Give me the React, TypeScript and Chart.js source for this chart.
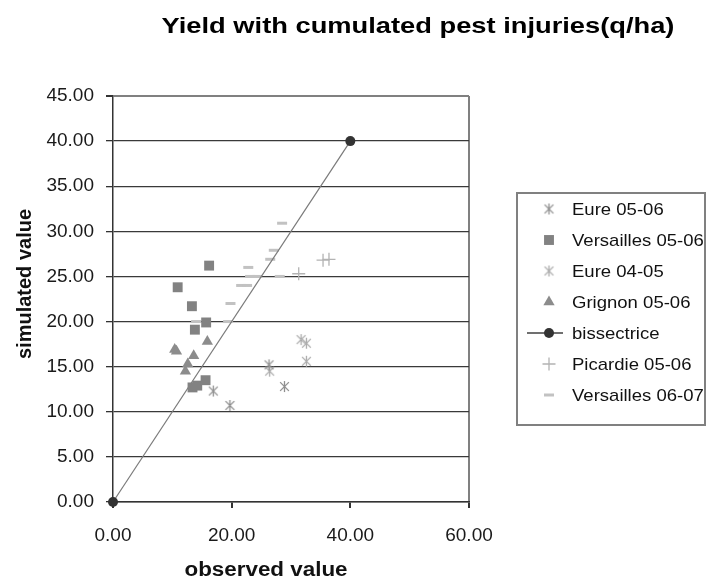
import React, { useEffect, useRef } from 'react';
import { Chart, registerables } from 'chart.js';

Chart.register(...registerables);

// Axis ranges and tick steps
const xTickValues = [0, 20, 40, 60];
const yMax = 45;
const yStep = 5;

// Observed (x) / simulated (y) yields, q/ha
const eure0506X = [16.9, 19.7, 26.3, 28.9];
const eure0506Y = [12.3, 10.7, 15.2, 12.8];

const versailles0506X = [16.2, 10.9, 13.3, 13.8, 15.7, 13.4, 14.2, 15.6];
const versailles0506Y = [26.2, 23.8, 21.7, 19.1, 19.9, 12.7, 12.9, 13.5];

const eure0405X = [26.4, 31.7, 32.6, 32.6];
const eure0405Y = [14.5, 18.0, 17.6, 15.6];

const grignon0506X = [10.4, 10.7, 15.9, 13.6, 12.6, 12.2];
const grignon0506Y = [16.9, 16.7, 17.8, 16.2, 15.3, 14.5];

const bissectriceX = [0, 40];
const bissectriceY = [0, 40];

const picardie0506X = [31.3, 35.4, 36.4];
const picardie0506Y = [25.3, 26.8, 26.9];

const versailles0607X = [28.5, 27.1, 26.5, 22.8, 23.1, 24.3, 28.1, 21.6, 22.6, 19.8, 19.4, 14.0];
const versailles0607Y = [30.9, 27.9, 26.9, 26.0, 25.0, 25.0, 25.0, 24.0, 24.0, 22.0, 20.0, 20.0];

const chartTitle = 'Yield with cumulated pest injuries(q/ha)';
const xAxisTitle = 'observed value';
const yAxisTitle = 'simulated value';

const FONT = "Arial, 'Liberation Sans', sans-serif";

const pts = (xs: number[], ys: number[]) => xs.map((x, i) => ({ x, y: ys[i] }));

// Six-armed asterisk marker (vertical bar + diagonal cross)
function makeAsterisk(color: string, size: number): HTMLCanvasElement {
  const c = document.createElement('canvas');
  c.width = size;
  c.height = size;
  const g = c.getContext('2d')!;
  g.strokeStyle = color;
  g.lineWidth = 1.3;
  const m = size / 2;
  const a = size / 2 - 1;
  const d = a * 0.8;
  g.beginPath();
  g.moveTo(m, m - a);
  g.lineTo(m, m + a);
  g.moveTo(m - d, m - d);
  g.lineTo(m + d, m + d);
  g.moveTo(m + d, m - d);
  g.lineTo(m - d, m + d);
  g.stroke();
  return c;
}

function drawMarker(ctx: CanvasRenderingContext2D, ds: any, x: number, y: number) {
  const style = ds.pointStyle;
  const r = ds.pointRadius;
  const fill = ds.pointBackgroundColor;
  const stroke = ds.pointBorderColor;
  ctx.save();
  if (typeof style !== 'string') {
    ctx.drawImage(style, x - style.width / 2, y - style.height / 2);
    ctx.restore();
    return;
  }
  ctx.fillStyle = fill;
  ctx.strokeStyle = stroke;
  ctx.lineWidth = ds.pointBorderWidth;
  ctx.beginPath();
  if (style === 'rect') {
    const s = r * Math.SQRT1_2;
    ctx.rect(x - s, y - s, 2 * s, 2 * s);
    ctx.fill();
  } else if (style === 'triangle') {
    ctx.moveTo(x, y - r);
    ctx.lineTo(x + r * 0.866, y + r * 0.5);
    ctx.lineTo(x - r * 0.866, y + r * 0.5);
    ctx.closePath();
    ctx.fill();
  } else if (style === 'cross') {
    ctx.moveTo(x - r, y);
    ctx.lineTo(x + r, y);
    ctx.moveTo(x, y - r);
    ctx.lineTo(x, y + r);
    ctx.stroke();
  } else if (style === 'line') {
    ctx.moveTo(x - r, y);
    ctx.lineTo(x + r, y);
    ctx.stroke();
  } else {
    ctx.arc(x, y, r, 0, Math.PI * 2);
    ctx.fill();
  }
  ctx.restore();
}

// Horizontal text drawn with a slightly widened face
function wideText(ctx: CanvasRenderingContext2D, text: string, x: number, y: number, sx: number) {
  ctx.save();
  ctx.translate(x, y);
  ctx.scale(sx, 1);
  ctx.fillText(text, 0, 0);
  ctx.restore();
}

// Title, axis captions and the boxed legend
const annotationsPlugin = {
  id: 'annotations',
  afterDraw(chart: any) {
    const { ctx, chartArea } = chart;
    ctx.save();
    ctx.fillStyle = '#000';

    // main title
    ctx.font = `bold 22px ${FONT}`;
    ctx.textAlign = 'center';
    ctx.textBaseline = 'alphabetic';
    wideText(ctx, chartTitle, 418, 33, 1.24);

    // x axis caption
    ctx.font = `bold 20px ${FONT}`;
    ctx.textAlign = 'center';
    ctx.textBaseline = 'alphabetic';
    ctx.fillStyle = '#111';
    wideText(ctx, xAxisTitle, chartArea.left + 153, 576, 1.12);

    // y axis caption
    ctx.save();
    ctx.translate(25, chartArea.top + 188);
    ctx.rotate(-Math.PI / 2);
    ctx.textBaseline = 'middle';
    ctx.fillText(yAxisTitle, 0, 0);
    ctx.restore();

    // legend
    const lx = 517;
    const ly = 193;
    const lw = 188;
    const lh = 232;
    ctx.strokeStyle = '#808080';
    ctx.lineWidth = 2;
    ctx.strokeRect(lx, ly, lw, lh);

    ctx.font = `17px ${FONT}`;
    ctx.textAlign = 'left';
    ctx.textBaseline = 'middle';
    chart.data.datasets.forEach((ds: any, i: number) => {
      const y = ly + 16 + i * 31;
      const ix = lx + 32;
      if (ds.showLine) {
        ctx.save();
        ctx.strokeStyle = '#404040';
        ctx.lineWidth = 1.5;
        ctx.beginPath();
        ctx.moveTo(lx + 10, y);
        ctx.lineTo(lx + 46, y);
        ctx.stroke();
        ctx.restore();
      }
      drawMarker(ctx, ds, ix, y);
      ctx.fillStyle = '#111';
      wideText(ctx, ds.label, lx + 55, y + 1, 1.09);
    });
    ctx.restore();
  },
};

export default function App() {
  const canvasRef = useRef<HTMLCanvasElement | null>(null);

  useEffect(() => {
    if (!canvasRef.current) return;
    const asteriskDark = makeAsterisk('#8f8f8f', 13);
    const asteriskLight = makeAsterisk('#ababab', 13);

    const chart = new Chart(canvasRef.current, {
      type: 'scatter',
      data: {
        datasets: [
          {
            label: 'Eure 05-06',
            data: pts(eure0506X, eure0506Y),
            pointStyle: asteriskDark as any,
            pointRadius: 6,
            pointBackgroundColor: '#8f8f8f',
            pointBorderColor: '#8f8f8f',
            pointBorderWidth: 1,
          },
          {
            label: 'Versailles 05-06',
            data: pts(versailles0506X, versailles0506Y),
            pointStyle: 'rect',
            pointRadius: 7,
            pointBackgroundColor: '#828282',
            pointBorderColor: '#828282',
            pointBorderWidth: 0,
          },
          {
            label: 'Eure 04-05',
            data: pts(eure0405X, eure0405Y),
            pointStyle: asteriskLight as any,
            pointRadius: 6,
            pointBackgroundColor: '#ababab',
            pointBorderColor: '#ababab',
            pointBorderWidth: 1,
          },
          {
            label: 'Grignon 05-06',
            data: pts(grignon0506X, grignon0506Y),
            pointStyle: 'triangle',
            pointRadius: 6.5,
            pointBackgroundColor: '#8c8c8c',
            pointBorderColor: '#8c8c8c',
            pointBorderWidth: 0,
          },
          {
            label: 'bissectrice',
            data: pts(bissectriceX, bissectriceY),
            showLine: true,
            clip: false,
            borderColor: '#7a7a7a',
            borderWidth: 1.2,
            pointStyle: 'circle',
            pointRadius: 5,
            pointBackgroundColor: '#333333',
            pointBorderColor: '#333333',
            pointBorderWidth: 0,
          },
          {
            label: 'Picardie 05-06',
            data: pts(picardie0506X, picardie0506Y),
            pointStyle: 'cross',
            pointRadius: 6.5,
            pointBackgroundColor: '#b3b3b3',
            pointBorderColor: '#b3b3b3',
            pointBorderWidth: 1.3,
          },
          {
            label: 'Versailles 06-07',
            data: pts(versailles0607X, versailles0607Y),
            pointStyle: 'line',
            pointRadius: 5,
            pointBackgroundColor: '#c2c2c2',
            pointBorderColor: '#c2c2c2',
            pointBorderWidth: 3,
          },
        ] as any,
      },
      options: {
        animation: false,
        responsive: true,
        maintainAspectRatio: false,
        layout: { padding: { top: 96, right: 239, bottom: 37, left: 0 } },
        plugins: {
          legend: { display: false },
          title: { display: false },
          tooltip: { enabled: false },
        },
        scales: {
          x: {
            type: 'linear',
            min: xTickValues[0],
            max: xTickValues[xTickValues.length - 1],
            afterBuildTicks: (scale: any) => {
              scale.ticks = xTickValues.map((v) => ({ value: v }));
            },
            afterFit: (scale: any) => {
              scale.height = 40;
            },
            ticks: {
              font: { family: FONT, size: 19 },
              color: '#1a1a1a',
              padding: 16,
              maxRotation: 0,
              callback: (v: any) => Number(v).toFixed(2),
            },
            grid: {
              drawOnChartArea: true,
              color: (c: any) => (c.tick && c.tick.value === 60 ? '#808080' : 'rgba(0,0,0,0)'),
              lineWidth: 2,
              tickColor: '#333',
              tickLength: 6,
            },
            border: { display: true, color: '#333', width: 1.5 },
          },
          y: {
            type: 'linear',
            min: 0,
            max: yMax,
            ticks: {
              stepSize: yStep,
              font: { family: FONT, size: 19 },
              color: '#1a1a1a',
              padding: 12,
              callback: (v: any) => Number(v).toFixed(2),
            },
            afterFit: (scale: any) => {
              scale.width = 113;
            },
            grid: {
              color: (c: any) => (c.tick && c.tick.value === yMax ? '#808080' : '#3a3a3a'),
              lineWidth: (c: any) => (c.tick && c.tick.value === yMax ? 2 : 1.3),
              tickColor: '#333',
              tickLength: 7,
            },
            border: { display: true, color: '#333', width: 1.5 },
          },
        },
      },
      plugins: [annotationsPlugin],
    });
    return () => chart.destroy();
  }, []);

  return (
    <div style={{ position: 'fixed', left: 0, top: 0, width: 708, height: 579, background: '#fff' }}>
      <canvas ref={canvasRef} />
    </div>
  );
}
